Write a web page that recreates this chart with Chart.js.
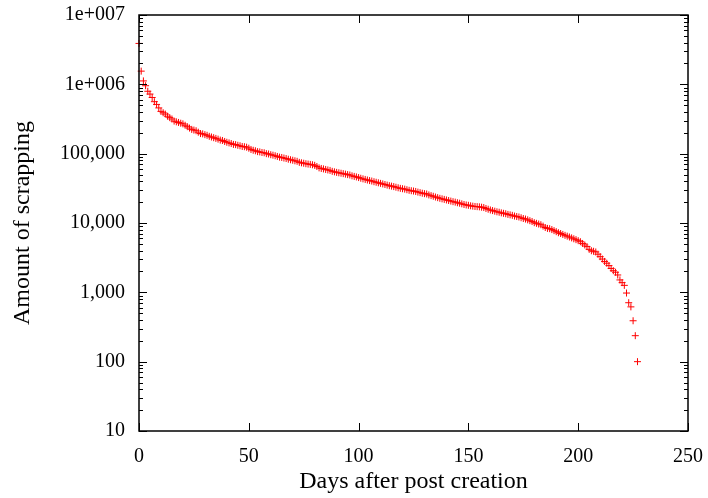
<!DOCTYPE html>
<html>
<head>
<meta charset="utf-8">
<script src="https://cdn.jsdelivr.net/npm/chart.js@4.4.0/dist/chart.umd.min.js"></script>
<style>
  html, body { margin: 0; padding: 0; background: #fff; }
</style>
</head>
<body>
<canvas id="grafico" width="708" height="498"></canvas>
<script>
// amount of scrapping per day (day 0 .. 227)
const scrapping = [
  3890000, 1550000, 1120000, 955000, 794000, 724000, 646000, 562000, 513000, 457000,
  407000, 389000, 372000, 347000, 331000, 316000, 295000, 288000, 282000, 275000,
  269000, 257000, 245000, 234000, 224000, 219000, 214000, 204000, 195000, 193000,
  188000, 184000, 178000, 174000, 170000, 166000, 162000, 157000, 155000, 150000,
  146000, 143000, 140000, 136000, 135000, 132000, 130000, 127000, 126000, 124000,
  120000, 115000, 112000, 110000, 107000, 106000, 104000, 103000, 100000, 98900,
  96600, 95100, 93300, 91200, 89100, 88100, 86500, 85100, 83200, 81700,
  80400, 78900, 77600, 75000, 73800, 72800, 71600, 70800, 70000, 69200,
  67900, 65300, 62400, 61200, 60300, 59200, 58200, 57300, 55600, 54700,
  53700, 53000, 52200, 51500, 50700, 49900, 49200, 47900, 47000, 46200,
  45200, 44200, 43300, 42500, 41700, 40900, 40300, 39400, 38700, 38000,
  37300, 36600, 35900, 35200, 34500, 34000, 33500, 32800, 32200, 31600,
  31200, 30800, 30200, 29600, 29200, 28900, 28500, 27900, 27400, 26900,
  26500, 26200, 25400, 24800, 24300, 23700, 23200, 22700, 22300, 21900,
  21500, 21100, 20700, 20300, 20000, 19600, 19300, 18900, 18500, 18200,
  18000, 17700, 17500, 17300, 17200, 17100, 16900, 16700, 16200, 15800,
  15400, 15100, 14800, 14500, 14300, 14000, 13800, 13600, 13300, 13100,
  12900, 12600, 12400, 12200, 11900, 11600, 11400, 11100, 10800, 10500,
  10100, 9890, 9660, 9440, 9020, 8610, 8360, 8280, 8040, 7760,
  7500, 7240, 7050, 6840, 6640, 6460, 6280, 6100, 5920, 5750,
  5560, 5370, 5070, 4820, 4570, 4170, 3980, 3910, 3820, 3550,
  3270, 3020, 2790, 2630, 2430, 2210, 2050, 1950, 1780, 1510,
  1380, 1260, 977, 708, 617, 389, 237, 100
];

const xTicks = [0, 50, 100, 150, 200, 250];
const yTicks = [10, 100, 1000, 10000, 100000, 1000000, 10000000];
const yLabels = ['10', '100', '1,000', '10,000', '100,000', '1e+006', '1e+007'];

const fonte = 'Liberation Serif, Times New Roman, serif';

// box around the plot with gnuplot style inward ticks
const moldura = {
  id: 'moldura',
  afterDatasetsDraw(chart) {
    const { ctx, chartArea: a, scales } = chart;
    const sx = scales.x, sy = scales.y;
    ctx.save();
    ctx.strokeStyle = '#000';
    ctx.lineWidth = 1;
    ctx.beginPath();
    xTicks.forEach(v => {
      const px = Math.round(sx.getPixelForValue(v)) + 0.5;
      ctx.moveTo(px, a.bottom); ctx.lineTo(px, a.bottom - 8);
      ctx.moveTo(px, a.top); ctx.lineTo(px, a.top + 8);
    });
    yTicks.forEach(v => {
      const py = Math.round(sy.getPixelForValue(v)) + 0.5;
      ctx.moveTo(a.left, py); ctx.lineTo(a.left + 8, py);
      ctx.moveTo(a.right, py); ctx.lineTo(a.right - 8, py);
    });
    // minor ticks 2..9 in each decade
    for (let d = 10; d < 10000000; d *= 10) {
      for (let m = 2; m <= 9; m++) {
        const py = Math.round(sy.getPixelForValue(d * m)) + 0.5;
        ctx.moveTo(a.left, py); ctx.lineTo(a.left + 4, py);
        ctx.moveTo(a.right, py); ctx.lineTo(a.right - 4, py);
      }
    }
    ctx.stroke();
    ctx.lineWidth = 1.5;
    ctx.strokeRect(a.left, a.top, a.right - a.left, a.bottom - a.top);
    ctx.restore();
  }
};

const ctx = document.getElementById('grafico').getContext('2d');
const grafico = new Chart(ctx, {
  type: 'scatter',
  data: {
    datasets: [{
      data: scrapping.map((v, i) => ({ x: i, y: v })),
      pointStyle: 'cross',
      pointRadius: 3.5,
      pointBorderWidth: 1,
      borderColor: '#ff0000',
      backgroundColor: '#ff0000',
      clip: false
    }]
  },
  options: {
    responsive: false,
    animation: false,
    layout: { padding: { top: 15, right: 20, left: 0, bottom: 0 } },
    plugins: {
      legend: { display: false },
      tooltip: { enabled: false }
    },
    scales: {
      x: {
        type: 'linear',
        min: 0,
        max: 250,
        afterBuildTicks: s => { s.ticks = xTicks.map(v => ({ value: v })); },
        afterFit: s => {
          s.height = 67;
          s.paddingLeft = 0;   // labels may hang over the edges
          s.paddingRight = 0;
        },
        grid: { display: false, drawTicks: false },
        border: { display: false },
        ticks: {
          padding: 14,
          color: '#000',
          maxRotation: 0,
          font: { family: fonte, size: 20 }
        },
        title: {
          display: true,
          text: 'Days after post creation',
          color: '#000',
          font: { family: fonte, size: 24 },
          padding: { top: 0, bottom: 2 }
        }
      },
      y: {
        type: 'logarithmic',
        min: 10,
        max: 10000000,
        afterBuildTicks: s => { s.ticks = yTicks.map(v => ({ value: v })); },
        afterFit: s => {
          s.width = 139;
          s.paddingTop = 0;
          s.paddingBottom = 0;
        },
        grid: { display: false, drawTicks: false },
        border: { display: false },
        ticks: {
          padding: 14,
          color: '#000',
          autoSkip: false,
          font: { family: fonte, size: 20 },
          callback: v => {
            const i = yTicks.indexOf(v);
            return i >= 0 ? yLabels[i] : '';
          }
        },
        title: {
          display: true,
          text: 'Amount of scrapping',
          color: '#000',
          font: { family: fonte, size: 24 },
          padding: { top: 8, bottom: 0 }
        }
      }
    }
  },
  plugins: [moldura]
});
</script>
</body>
</html>
